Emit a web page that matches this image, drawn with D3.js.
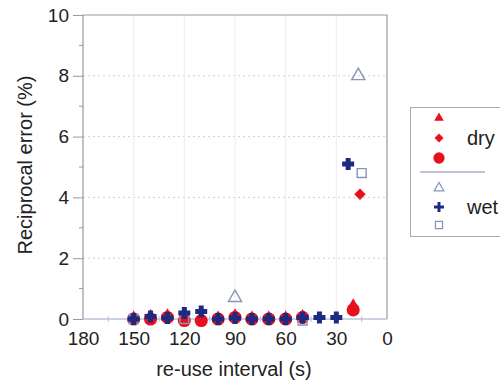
<!DOCTYPE html>
<html>
<head>
<meta charset="utf-8">
<script src="https://cdn.jsdelivr.net/npm/d3@7"></script>
<style>
  body { margin: 0; background: #fff; }
  text { font-family: "Liberation Sans", Arial, sans-serif; fill: #222; }
</style>
</head>
<body>
<div id="plot"></div>
<script>
// Data (x = re-use interval in s, y = reciprocal error in %)
const dryCircle   = [[150, 0], [140, 0], [130, 0.05], [120, -0.05], [110, -0.05], [100, 0], [90, 0.05], [80, 0], [70, 0], [60, 0], [50, 0.05], [20, 0.3]];
const dryTriangle = [[150, 0.05], [140, 0.1], [130, 0.12], [120, 0.05], [110, 0.05], [100, 0.05], [90, 0.12], [80, 0.05], [70, 0.05], [60, 0.05], [50, 0.1], [20, 0.45]];
const dryDiamond  = [[150, 0], [140, 0.05], [130, 0.1], [120, 0], [110, 0], [100, 0.05], [90, 0.1], [80, 0], [70, 0], [60, 0], [50, 0.05], [16, 4.1]];

const wetTriangle = [[90, 0.7], [17, 8.0]];
const wetSquare   = [[150, 0], [120, 0], [50, -0.05], [15, 4.8]];
const wetPlus     = [[150, 0], [140, 0.08], [130, 0.03], [120, 0.2], [110, 0.25], [100, 0], [90, 0.03], [80, 0], [70, 0], [60, 0], [50, 0.05], [40, 0.05], [30, 0.05], [23, 5.1]];

const xTicks = [180, 150, 120, 90, 60, 30, 0];
const yTicks = [0, 2, 4, 6, 8, 10];

const width = 500, height = 385;
const red = "#e8101c", navy = "#1c2a80", pale = "#8a93b8";

const svg = d3.select("#plot").append("svg")
    .attr("width", width)
    .attr("height", height);

const x = d3.scaleLinear().domain([180, 0]).range([83, 387]);
const y = d3.scaleLinear().domain([0, 10]).range([319, 15]);

// grid
svg.append("g").selectAll("line")
    .data([2, 4, 6, 8])
    .enter().append("line")
    .attr("x1", x(180)).attr("x2", x(0))
    .attr("y1", d => y(d)).attr("y2", d => y(d))
    .attr("stroke", "#cfcfcf")
    .attr("stroke-dasharray", "2,3");

svg.append("g").selectAll("line")
    .data([150, 120, 90, 60, 30])
    .enter().append("line")
    .attr("x1", d => x(d)).attr("x2", d => x(d))
    .attr("y1", y(10)).attr("y2", y(0))
    .attr("stroke", "#ececec");

// frame
svg.append("path")
    .attr("d", `M${x(180)},${y(0)}V${y(10)}H${x(0)}V${y(0)}`)
    .attr("fill", "none")
    .attr("stroke", "#9a9a9a")
    .attr("stroke-width", 1.2);

svg.append("line")
    .attr("x1", x(180)).attr("x2", x(0))
    .attr("y1", y(0)).attr("y2", y(0))
    .attr("stroke", "#9aa6c4")
    .attr("stroke-width", 1.2);

// y axis
const yAxis = d3.axisLeft(y).tickValues(yTicks).tickSize(10).tickPadding(4).tickFormat(d3.format("d"));
const gy = svg.append("g").attr("transform", `translate(${x(180)},0)`).call(yAxis);
gy.select(".domain").remove();
gy.selectAll(".tick line").attr("stroke", "#9a9a9a");
gy.selectAll("text").style("font-size", "19px").attr("fill", "#222");

svg.append("g").selectAll("line")
    .data([1, 3, 5, 7, 9])
    .enter().append("line")
    .attr("x1", x(180) - 4).attr("x2", x(180))
    .attr("y1", d => y(d)).attr("y2", d => y(d))
    .attr("stroke", "#9a9a9a");

// x axis
const xAxis = d3.axisBottom(x).tickValues(xTicks).tickSize(0).tickPadding(13);
const gx = svg.append("g").attr("transform", `translate(0,${y(0)})`).call(xAxis);
gx.select(".domain").remove();
gx.selectAll("text").style("font-size", "19px").attr("fill", "#222");

svg.append("g").selectAll("line")
    .data([165, 135, 105, 75, 45, 15])
    .enter().append("line")
    .attr("x1", d => x(d)).attr("x2", d => x(d))
    .attr("y1", y(0) - 3).attr("y2", y(0) + 3)
    .attr("stroke", "#b5c0d8");

// titles
svg.append("text")
    .attr("transform", `translate(32,165) rotate(-90)`)
    .attr("text-anchor", "middle")
    .style("font-size", "20px")
    .text("Reciprocal error (%)");

svg.append("text")
    .attr("x", 234).attr("y", 376)
    .attr("text-anchor", "middle")
    .style("font-size", "20px")
    .text("re-use interval (s)");

// marker helpers
function drawSymbols(data, type, size, opts) {
    const g = svg.append("g");
    g.selectAll("path")
        .data(data)
        .enter().append("path")
        .attr("transform", d => `translate(${x(d[0])},${y(d[1])})` + (opts.rotate ? " rotate(45)" : ""))
        .attr("d", d3.symbol().type(type).size(size)())
        .attr("fill", opts.fill)
        .attr("stroke", opts.stroke || "none")
        .attr("stroke-width", opts.strokeWidth || 0);
}

function drawPlus(data, half, w, color, parent) {
    const g = (parent || svg).append("g");
    g.selectAll("path")
        .data(data)
        .enter().append("path")
        .attr("d", d => `M${d[0] - half},${d[1]}H${d[0] + half}M${d[0]},${d[1] - half}V${d[1] + half}`)
        .attr("stroke", color)
        .attr("stroke-width", w);
}

drawSymbols(dryCircle, d3.symbolCircle, 135, { fill: red });
drawSymbols(dryTriangle, d3.symbolTriangle, 65, { fill: red });
drawSymbols(dryDiamond, d3.symbolSquare, 66, { fill: red, rotate: true });
drawSymbols(wetTriangle, d3.symbolTriangle, 75, { fill: "none", stroke: pale, strokeWidth: 1.4 });
drawSymbols(wetSquare, d3.symbolSquare, 80, { fill: "none", stroke: pale, strokeWidth: 1.4 });
drawPlus(wetPlus.map(d => [x(d[0]), y(d[1])]), 6, 5, navy);

// legend
const lg = svg.append("g");
lg.append("rect")
    .attr("x", 410.5).attr("y", 107.5)
    .attr("width", 110).attr("height", 129)
    .attr("fill", "#fff")
    .attr("stroke", "#aaa");

const lx = 439;
const legendItems = [
    { y: 118, type: d3.symbolTriangle, size: 40, fill: red },
    { y: 138, type: d3.symbolSquare, size: 40, fill: red, rotate: true },
    { y: 158, type: d3.symbolCircle, size: 100, fill: red },
    { y: 188, type: d3.symbolTriangle, size: 40, fill: "none", stroke: pale },
    { y: 225, type: d3.symbolSquare, size: 50, fill: "none", stroke: pale }
];
lg.selectAll("path.sym")
    .data(legendItems)
    .enter().append("path")
    .attr("class", "sym")
    .attr("transform", d => `translate(${lx},${d.y})` + (d.rotate ? " rotate(45)" : ""))
    .attr("d", d => d3.symbol().type(d.type).size(d.size)())
    .attr("fill", d => d.fill)
    .attr("stroke", d => d.stroke || "none")
    .attr("stroke-width", 1.3);
drawPlus([[lx, 207]], 5, 3, navy, lg);

lg.append("line")
    .attr("x1", 420).attr("x2", 485)
    .attr("y1", 172).attr("y2", 172)
    .attr("stroke", "#aab0c8")
    .attr("stroke-width", 1.5);

lg.append("text").attr("x", 467).attr("y", 145).style("font-size", "20px").text("dry");
lg.append("text").attr("x", 467).attr("y", 214).style("font-size", "20px").text("wet");
</script>
</body>
</html>
